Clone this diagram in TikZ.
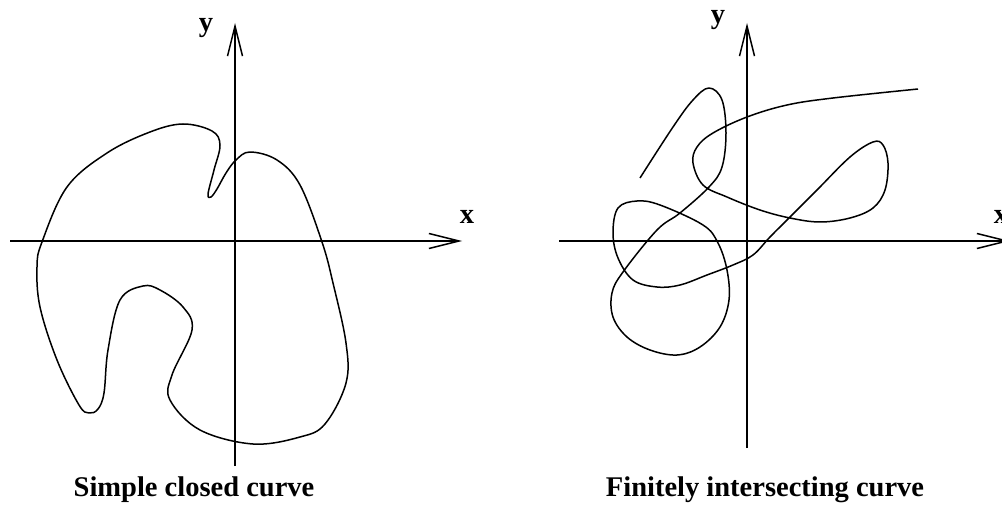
\documentclass[tikz,border=0pt]{standalone}
\usepackage{fontspec}
\setmainfont{Liberation Serif}
\usetikzlibrary{arrows.meta}
\tikzset{
  axis/.style={line width=1.5pt,-{Straight Barb[length=30pt,width=15pt,line width=1.5pt]}},
  curve/.style={line width=1.5pt,line join=round},
  lbl/.style={font=\fontsize{28.5}{32}\selectfont\bfseries,inner sep=0pt}
}
\begin{document}
\begin{tikzpicture}[x=1pt,y=-1pt]
\useasboundingbox (0,0) rectangle (1002,508);
% left picture
\coordinate (lx0) at (10,241);\coordinate (lx1) at (462,241);
\coordinate (ly0) at (235,466);\coordinate (ly1) at (235,23);
\draw[axis] (lx0) -- (lx1);
\draw[axis] (ly0) -- (ly1);
\node[lbl] (lxl) at (467,217) {x};
\node[lbl] (lyl) at (206,28) {y};
\draw[curve] plot[smooth cycle,tension=0.6] coordinates {
  (183,124) (212,131) (220,145) (214,170) (208,194) (211,197) (217,189) (226,173)
  (236,160) (250,152) (277,160) (300,185) (322,242) (333,283) (346,343) (346,383)
  (325,424) (300,437) (253,444) (200,430) (170,400) (172,375) (192,330) (183,307)
  (160,290) (143,286) (120,300) (108,350) (104,393) (98,409) (89,413) (79,405)
  (57,360) (40,307) (37,267) (42,242) (67,187) (107,153) (150,132)};
\node[lbl] (lcap) at (194,490) {Simple closed curve};
% right picture
\coordinate (rx0) at (559,241);\coordinate (rx1) at (1010,241);
\coordinate (ry0) at (747,448);\coordinate (ry1) at (747,23);
\draw[axis] (rx0) -- (rx1);
\draw[axis] (ry0) -- (ry1);
\node[lbl] (rxl) at (1001,217) {x};
\node[lbl] (ryl) at (718,20) {y};
\draw[curve] plot[smooth,tension=0.6] coordinates {
  (640,178) (673,127) (693,100) (709,88) (722,100) (726,133) (722,167) (709,187)
  (680,213) (657,230) (623,272) (612,293) (613,317) (627,337) (650,350) (677,355)
  (700,347) (720,327) (729,300) (727,270) (718,243) (703,225) (660,205) (637,201)
  (618,208) (613,233) (618,258) (633,280) (657,287) (680,285) (707,275) (733,265)
  (753,255) (770,237) (790,217) (817,190) (850,157) (873,142) (883,145) (888,163)
  (885,190) (873,208) (850,218) (820,222) (790,218) (760,210) (727,197) (703,185)
  (693,163) (697,147) (713,133) (747,117) (787,105) (833,98) (918,89)};
\node[lbl] (rcap) at (765,490) {Finitely intersecting curve};
\end{tikzpicture}
\end{document}
